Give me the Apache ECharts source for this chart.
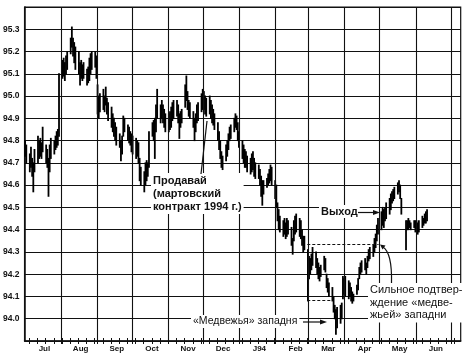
<!DOCTYPE html>
<html><head><meta charset="utf-8">
<script src="https://cdn.jsdelivr.net/npm/echarts@6.0.0/dist/echarts.min.js"></script>
<style>html,body{margin:0;padding:0;background:#fff}#c{width:470px;height:357px}</style>
</head><body><div id="c"></div>
<script>
// Month tick labels (mid-month) and month boundaries
const months = ['Jul','Aug','Sep','Oct','Nov','Dec','J94','Feb','Mar','Apr','May','Jun'];
const monthStarts = ['1993-07-01','1993-08-01','1993-09-01','1993-10-01','1993-11-01','1993-12-01',
  '1994-01-01','1994-02-01','1994-03-01','1994-04-01','1994-05-01','1994-06-01','1994-07-01'];
const yLabels = [94.0,94.1,94.2,94.3,94.4,94.5,94.6,94.7,94.8,94.9,95.0,95.1,95.2,95.3];

// Daily low / high, one per trading day from 1 Jul 1993 (null = no bar)
const lows = [
 // Jul 93
 94.73,94.70,94.66,94.68,94.64,94.57,94.66,94.70,94.72,94.73,94.72,94.75,94.70,94.68,94.55,94.66,94.72,94.74,94.76,94.77,94.78,94.82,
 // Aug
 95.08,95.09,95.07,95.10,95.12,95.19,95.22,95.18,95.15,95.12,95.10,95.05,95.08,95.07,95.08,95.05,95.06,95.07,95.10,95.12,95.13,95.08,
 // Sep
 94.92,94.90,94.93,94.94,94.93,94.96,94.92,94.89,94.86,94.84,94.82,94.80,94.78,94.77,94.71,94.74,94.82,94.84,94.80,94.79,94.78,94.75,
 // Oct
 94.74,94.72,94.73,94.70,94.62,94.60,94.57,94.60,94.62,94.64,94.68,94.82,94.80,94.72,94.84,94.90,94.88,94.90,94.88,94.86,94.84,
 // Nov
 94.84,94.85,94.86,94.89,94.90,94.91,94.88,94.81,94.86,94.88,94.95,94.98,94.94,94.91,94.90,94.86,94.80,94.84,94.88,94.89,94.93,94.94,
 // Dec
 94.94,94.92,94.91,94.92,94.90,94.88,94.87,94.85,94.80,94.76,94.72,94.68,94.67,94.71,94.73,94.76,94.80,94.81,94.84,94.86,94.85,94.80,94.77,
 // Jan 94
 94.72,94.70,94.68,94.68,94.66,94.65,94.66,94.67,94.64,94.63,94.63,94.60,94.55,94.51,94.56,94.59,94.60,94.61,94.62,94.60,94.54,
 // Feb
 94.50,94.44,94.40,94.39,94.37,94.38,94.36,94.37,94.38,94.33,94.29,94.35,94.38,94.39,94.37,94.36,94.33,94.30,94.31,94.08,
 // Mar
 94.18,94.20,94.22,94.24,94.23,94.20,94.18,94.17,94.19,94.22,94.21,94.14,94.12,94.10,94.08,94.03,94.00,93.93,93.96,93.98,94.00,94.09,94.11,
 // Apr
 94.10,94.09,94.10,94.08,94.07,94.08,94.11,94.13,94.18,94.20,94.21,94.22,94.20,94.23,94.26,94.27,94.28,94.30,94.32,94.35,94.38,
 // May
 94.40,94.42,94.41,94.44,94.45,94.47,94.49,94.52,94.53,94.54,94.56,94.57,94.54,94.47,null,94.31,94.40,94.40,94.41,94.40,94.41,94.39,
 // Jun
 94.40,94.38,94.39,94.41,94.42,94.43,94.43,94.44
];
const highs = [
 // Jul 93
 94.80,94.78,94.74,94.77,94.72,94.70,94.76,94.82,94.80,94.81,94.79,94.86,94.78,94.76,94.72,94.78,94.81,94.80,94.82,94.84,94.85,95.10,
 // Aug
 95.16,95.17,95.15,95.18,95.20,95.26,95.31,95.26,95.24,95.22,95.20,95.15,95.16,95.14,95.15,95.12,95.13,95.17,95.19,95.20,95.20,95.18,
 // Sep
 95.05,95.00,95.01,95.03,95.00,95.04,94.99,94.97,94.95,94.92,94.90,94.88,94.86,94.83,94.80,94.82,94.91,94.90,94.87,94.86,94.84,94.83,
 // Oct
 94.82,94.81,94.80,94.79,94.72,94.68,94.66,94.70,94.71,94.70,94.84,94.88,94.89,94.90,94.96,95.03,94.96,94.98,94.96,94.94,94.92,
 // Nov
 94.92,94.93,94.95,94.97,94.98,94.98,94.96,94.92,94.93,94.94,95.05,95.09,95.02,94.98,94.97,94.93,94.90,94.92,94.96,94.97,95.01,95.03,
 // Dec
 95.02,95.00,94.99,95.00,94.98,94.96,94.94,94.92,94.88,94.84,94.80,94.75,94.73,94.78,94.80,94.83,94.86,94.87,94.90,94.92,94.91,94.88,94.84,
 // Jan 94
 94.80,94.78,94.76,94.75,94.73,94.72,94.74,94.75,94.72,94.70,94.69,94.67,94.64,94.62,94.62,94.63,94.65,94.67,94.69,94.68,94.62,
 // Feb
 94.60,94.52,94.49,94.46,94.44,94.45,94.43,94.45,94.44,94.41,94.36,94.44,94.46,94.47,94.45,94.44,94.40,94.37,94.37,94.31,
 // Mar
 94.28,94.27,94.29,94.32,94.30,94.27,94.25,94.23,94.24,94.28,94.27,94.20,94.18,94.16,94.14,94.10,94.06,94.04,94.05,94.06,94.07,94.19,94.18,
 // Apr
 94.19,94.17,94.16,94.14,94.12,94.11,94.15,94.18,94.23,94.25,94.26,94.27,94.25,94.28,94.31,94.32,94.33,94.36,94.38,94.42,94.45,
 // May
 94.48,94.50,94.49,94.50,94.52,94.54,94.56,94.57,94.58,94.59,94.61,94.62,94.60,94.54,null,94.44,94.44,94.45,94.44,94.43,94.44,94.44,
 // Jun
 94.44,94.43,94.44,94.46,94.45,94.47,94.48,94.49
];

// Annotation levels
const trapTop = 94.333, trapBottom = 94.085;
const trapTopFrom = '1994-02-28', trapTopTo = '1994-04-30', trapBottomTo = '1994-03-21';

const DAY = 86400000;
const t0 = Date.UTC(1993, 6, 1);
const dayOf = s => (Date.parse(s) - t0) / DAY;
const xMax = 373.3;

// calendar positions of trading days
const tradeX = [];
for (let d = 0; tradeX.length < lows.length; d++) {
  const wd = new Date(t0 + d * DAY).getUTCDay();
  if (wd !== 0 && wd !== 6) tradeX.push(d + 0.5);
}
const bars = [];
lows.forEach((lo, i) => { if (lo != null && highs[i] != null) bars.push([tradeX[i], lo, highs[i]]); });

const boundaries = monthStarts.slice(1).map(dayOf);
const labelPos = monthStarts.slice(0, 12).map(s => dayOf(s) + 17);
const weekTicks = [];
for (let d = 0; d <= xMax; d++) if (new Date(t0 + d * DAY).getUTCDay() === 1) weekTicks.push(d);
const allTicks = weekTicks.concat(boundaries);

const FONT = '"Liberation Sans", Arial, sans-serif';
const GRID = '#111';
const chart = echarts.init(document.getElementById('c'), null, {renderer: 'canvas'});
chart.setOption({
  animation: false,
  backgroundColor: '#fff',
  grid: {left: 24, right: 9.3, top: 7, bottom: 16, show: true, borderColor: '#111', borderWidth: 1.2, backgroundColor: 'transparent'},
  xAxis: [{
    type: 'value', min: 0, max: xMax, position: 'bottom',
    axisLine: {show: true, lineStyle: {color: '#111', width: 1.5}},
    axisTick: {show: true, length: 3, customValues: allTicks, lineStyle: {color: '#111', width: 1}},
    axisLabel: {customValues: labelPos, formatter: v => months[labelPos.findIndex(p => Math.abs(p - v) < 1e-6)] || '',
      fontSize: 8, fontWeight: 'bold', color: '#111', margin: 4, fontFamily: FONT},
    splitLine: {show: false}
  }, {
    type: 'value', min: 0, max: xMax, position: 'bottom',
    axisLine: {show: false},
    axisTick: {show: true, inside: true, length: 3, customValues: allTicks, lineStyle: {color: '#111', width: 1}},
    axisLabel: {show: false},
    splitLine: {show: false}
  }],
  yAxis: {
    type: 'value', min: 93.9, max: 95.4, interval: 0.1,
    axisLine: {show: true, lineStyle: {color: '#111', width: 1.5}},
    axisTick: {show: false},
    axisLabel: {showMinLabel: false, showMaxLabel: false, formatter: v => (yLabels.some(t => Math.abs(t - v) < 1e-6) ? v.toFixed(1) : ''),
      fontSize: 8.5, fontWeight: 'bold', color: '#111', margin: 5, fontFamily: FONT},
    splitLine: {show: true, lineStyle: {color: GRID, width: 1.1}}
  },
  series: [{
    type: 'custom', xAxisIndex: 0, data: bars, encode: {x: 0, y: [1, 2]}, silent: true,
    renderItem: (params, api) => {
      const x = api.value(0);
      const p1 = api.coord([x, api.value(1)]);
      const p2 = api.coord([x, api.value(2)]);
      return {type: 'line', shape: {x1: p1[0], y1: p1[1] + 0.5, x2: p2[0], y2: p2[1] - 0.5},
        style: {stroke: '#000', lineWidth: 1.8}};
    },
    markLine: {
      silent: true, symbol: 'none', label: {show: false}, animation: false,
      data: boundaries.map(b => ({xAxis: b, lineStyle: {color: GRID, width: 1.1, type: 'solid'}})).concat([
        [{coord: [dayOf(trapTopFrom), trapTop], lineStyle: {color: '#111', width: 1, type: [3, 2]}}, {coord: [dayOf(trapTopTo), trapTop]}],
        [{coord: [dayOf(trapTopFrom), trapBottom], lineStyle: {color: '#111', width: 1, type: [3, 2]}}, {coord: [dayOf(trapBottomTo), trapBottom]}]
      ])
    }
  }],
  graphic: [
    {type: 'text', left: 151, top: 173, z: 100, style: {text: 'Продавай\n(мартовский\nконтракт 1994 г.)', font: 'bold 11px ' + FONT, lineHeight: 13, fill: '#111', backgroundColor: '#fff', padding: [1, 2, 1, 2]}},
    {type: 'polyline', z: 100, shape: {points: [[201, 174], [207, 121]]}, style: {stroke: '#111', lineWidth: 1.2, fill: null}},
    {type: 'text', left: 319, top: 205, z: 100, style: {text: 'Выход', font: 'bold 11px ' + FONT, fill: '#111', backgroundColor: '#fff', padding: [1, 2, 1, 2]}},
    {type: 'line', z: 100, shape: {x1: 358, y1: 212.5, x2: 375, y2: 212.5}, style: {stroke: '#111', lineWidth: 1.2}},
    {type: 'polygon', z: 100, shape: {points: [[373, 210], [380, 212.5], [373, 215]]}, style: {fill: '#111'}},
    {type: 'text', left: 368, top: 283, z: 100, style: {text: 'Сильное подтвер-\nждение «медве-\nжьей» западни', font: '11px ' + FONT, lineHeight: 12.5, fill: '#111', backgroundColor: '#fff', padding: [1, 2, 1, 2]}},
    {type: 'bezierCurve', z: 100, shape: {x1: 391.5, y1: 283, x2: 383, y2: 247, cpx1: 392, cpy1: 262, cpx2: 389, cpy2: 251}, style: {stroke: '#111', lineWidth: 1.2, fill: null}},
    {type: 'polygon', z: 100, shape: {points: [[380, 244.5], [385.5, 245.4], [382.5, 249.4]]}, style: {fill: '#111'}},
    {type: 'text', left: 191, top: 315, z: 100, style: {text: '«Медвежья» западня', font: '10.5px ' + FONT, fill: '#111', backgroundColor: '#fff', padding: [1, 2, 1, 2]}},
    {type: 'line', z: 100, shape: {x1: 303, y1: 322, x2: 322, y2: 322}, style: {stroke: '#111', lineWidth: 1.2}},
    {type: 'polygon', z: 100, shape: {points: [[320, 319.5], [327, 322], [320, 324.5]]}, style: {fill: '#111'}}
  ]
});
</script></body></html>
